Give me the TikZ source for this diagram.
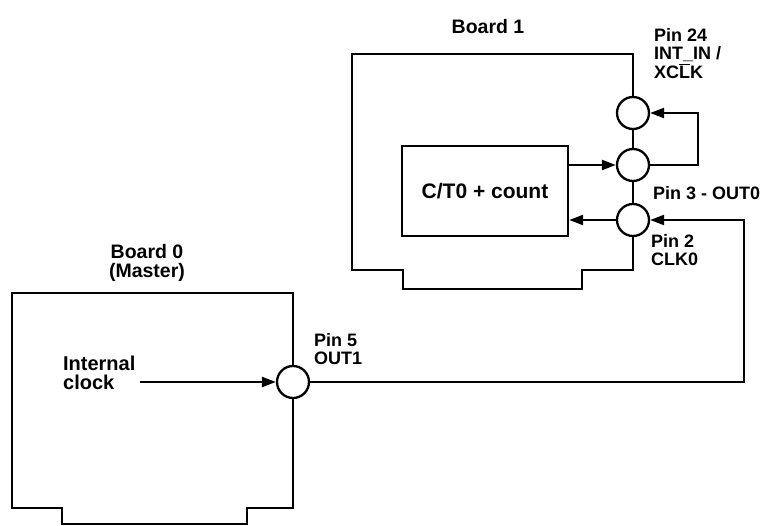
\documentclass[tikz,border=0pt]{standalone}
\usepackage{fontspec}
\setmainfont{Liberation Sans}
\usetikzlibrary{arrows.meta}
\begin{document}
\begin{tikzpicture}[x=1pt,y=-1pt,line width=2.3pt,line join=miter,
  pin/.style={circle,draw,minimum size=32pt,inner sep=0pt,fill=white},
  lbl/.style={font=\bfseries\fontsize{18}{18.5}\selectfont,align=left,inner sep=0pt,anchor=north west},
  ttl/.style={font=\bfseries\fontsize{19.5}{19}\selectfont,align=center,inner sep=0pt,anchor=north},
  blk/.style={draw,minimum width=166pt,minimum height=90pt,inner sep=0pt,font=\bfseries\fontsize{21}{21}\selectfont},
  arr/.style={-{Triangle[length=14pt,width=10pt]}}]
\useasboundingbox (0,0) rectangle (780,526);
% pins
\node[pin] (p24) at (633,113) {};
\node[pin] (p3) at (633,165) {};
\node[pin] (p2) at (633,220) {};
\node[pin] (p5) at (293,382) {};
% counter block
\node[blk] (ct) at (485,191) {C/T0 + count};
% board 1 outline
\draw (p24.north) -- (633,54) -- (352,54) -- (352,270) -- (403,270) -- (403,289)
  -- (582,289) -- (582,270) -- (633,270) -- (p2.south);
\draw (p24.south) -- (p3.north);
\draw (p3.south) -- (p2.north);
% board 0 outline
\draw (p5.north) -- (293,293) -- (12,293) -- (12,508) -- (62,508) -- (62,524)
  -- (247,524) -- (247,508) -- (293,508) -- (p5.south);
% connectors
\coordinate (lx) at (698,140);
\coordinate (rx) at (744,300);
\coordinate (ic) at (140,382);
\draw[arr] (ct.east |- p3.west) -- (p3.west);
\draw[arr] (p2.west) -- (ct.east |- p2.west);
\draw[arr] (p3.east) -| (lx) |- (p24.east);
\draw[arr] (p5.east) -| (rx) |- (p2.east);
\draw[arr] (ic) -- (p5.west);
% labels
\node[ttl] (b1) at (488,18) {Board 1};
\node[ttl] (b0) at (147,243) {Board 0\\(Master)};
\node[lbl] (l24) at (653,27) {Pin 24\\INT\_IN /\\XC$\overline{\hbox{L}}$K};
\node[lbl] (l3) at (652,185) {Pin 3 - OUT0};
\node[lbl] (l2) at (650,233) {Pin 2\\CLK0};
\node[lbl] (l5) at (313,332) {Pin 5\\OUT1};
\node[lbl,font=\bfseries\fontsize{20}{18.5}\selectfont] (lic) at (62,355) {Internal\\clock};
\end{tikzpicture}
\end{document}
